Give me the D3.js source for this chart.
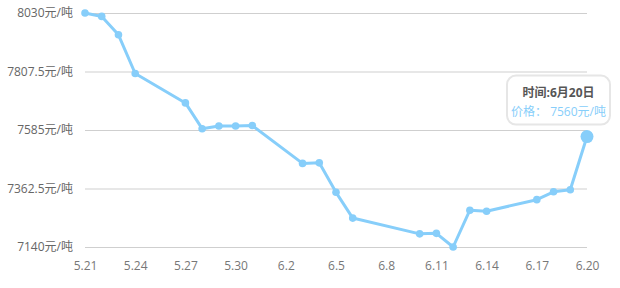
<!DOCTYPE html>
<html>
<head>
<meta charset="utf-8">
<script src="https://cdn.jsdelivr.net/npm/d3@7"></script>
<style>
  html, body { margin: 0; padding: 0; background: #fff; }
  svg { display: block; font-family: "Open Sans", "Noto Sans CJK SC", sans-serif; }
</style>
</head>
<body>
<svg width="620" height="288"></svg>
<script>
// every day on the category axis
const days = [
  "5.21","5.22","5.23","5.24","5.25","5.26","5.27","5.28","5.29","5.30","5.31",
  "6.1","6.2","6.3","6.4","6.5","6.6","6.7","6.8","6.9","6.10",
  "6.11","6.12","6.13","6.14","6.15","6.16","6.17","6.18","6.19","6.20"
];
// days that have a price
const priceDays = [
  "5.21","5.22","5.23","5.24","5.27","5.28","5.29","5.30","5.31",
  "6.3","6.4","6.5","6.6","6.10","6.11","6.12","6.13","6.14","6.17","6.18","6.19","6.20"
];
const prices = [
  8030, 8017, 7947, 7800, 7688, 7590, 7600, 7600, 7602,
  7458, 7460, 7348, 7250, 7190, 7192, 7140, 7280, 7276, 7320, 7350, 7358, 7560
];
const yTicks = [7140, 7362.5, 7585, 7807.5, 8030];
const tickDays = ["5.21","5.24","5.27","5.30","6.2","6.5","6.8","6.11","6.14","6.17","6.20"];

const svg = d3.select("svg"),
    margin = {top: 13, right: 33, bottom: 41, left: 85},
    width = +svg.attr("width"),
    height = +svg.attr("height"),
    color = "#87cefa",
    font = '"Open Sans", "Noto Sans CJK SC", sans-serif';

const x = d3.scalePoint()
    .domain(days)
    .range([margin.left, width - margin.right]);

const y = d3.scaleLinear()
    .domain([7140, 8030])
    .range([height - margin.bottom, margin.top]);

// grid lines + y labels
const yAxis = d3.axisLeft(y)
    .tickValues(yTicks)
    .tickSize(-(width - margin.left - margin.right))
    .tickPadding(12)
    .tickFormat(d => d + "元/吨");

svg.append("g")
    .attr("class", "y axis")
    .attr("transform", "translate(" + margin.left + ",0)")
    .call(yAxis)
    .attr("font-family", font)
    .attr("font-size", 12)
    .call(g => g.select(".domain").remove())
    .call(g => g.selectAll("line").attr("stroke", "#cfcfcf"))
    .call(g => g.selectAll("text").attr("fill", "#666"));

// x labels
const xAxis = d3.axisBottom(x)
    .tickValues(tickDays)
    .tickSize(0)
    .tickPadding(14);

svg.append("g")
    .attr("class", "x axis")
    .attr("transform", "translate(0," + (height - margin.bottom) + ")")
    .call(xAxis)
    .attr("font-family", font)
    .attr("font-size", 12)
    .call(g => g.select(".domain").remove())
    .call(g => g.selectAll("text").attr("fill", "#777"));

const data = priceDays.map((d, i) => ({day: d, value: prices[i]}));

const line = d3.line()
    .x(d => x(d.day))
    .y(d => y(d.value));

svg.append("path")
    .datum(data)
    .attr("class", "line")
    .attr("fill", "none")
    .attr("stroke", color)
    .attr("stroke-width", 3)
    .attr("stroke-linejoin", "round")
    .attr("d", line);

svg.selectAll(".dot")
    .data(data)
    .enter().append("circle")
    .attr("class", "dot")
    .attr("cx", d => x(d.day))
    .attr("cy", d => y(d.value))
    .attr("r", (d, i) => i === data.length - 1 ? 6.5 : 3.8)
    .attr("fill", color);

// tooltip for the last point
const last = data[data.length - 1];
const tip = {width: 103, height: 49};
const tx = x(last.day) - 80, ty = y(last.value) - 61;

const focus = svg.append("g")
    .attr("class", "focus")
    .attr("transform", "translate(" + tx + "," + ty + ")");

focus.append("rect")
    .attr("width", tip.width)
    .attr("height", tip.height)
    .attr("rx", 9)
    .attr("ry", 9)
    .attr("fill", "#fff")
    .attr("stroke", "#e6e6e6")
    .attr("stroke-width", 2);

focus.append("text")
    .attr("x", tip.width / 2)
    .attr("y", 21)
    .attr("text-anchor", "middle")
    .attr("fill", "#555")
    .style("font-size", "12px")
    .style("font-weight", "bold")
    .text("时间:6月20日");

focus.append("text")
    .attr("x", tip.width / 2)
    .attr("y", 40)
    .attr("text-anchor", "middle")
    .attr("fill", color)
    .style("font-size", "12px")
    .text("价格： " + last.value + "元/吨");
</script>
</body>
</html>
